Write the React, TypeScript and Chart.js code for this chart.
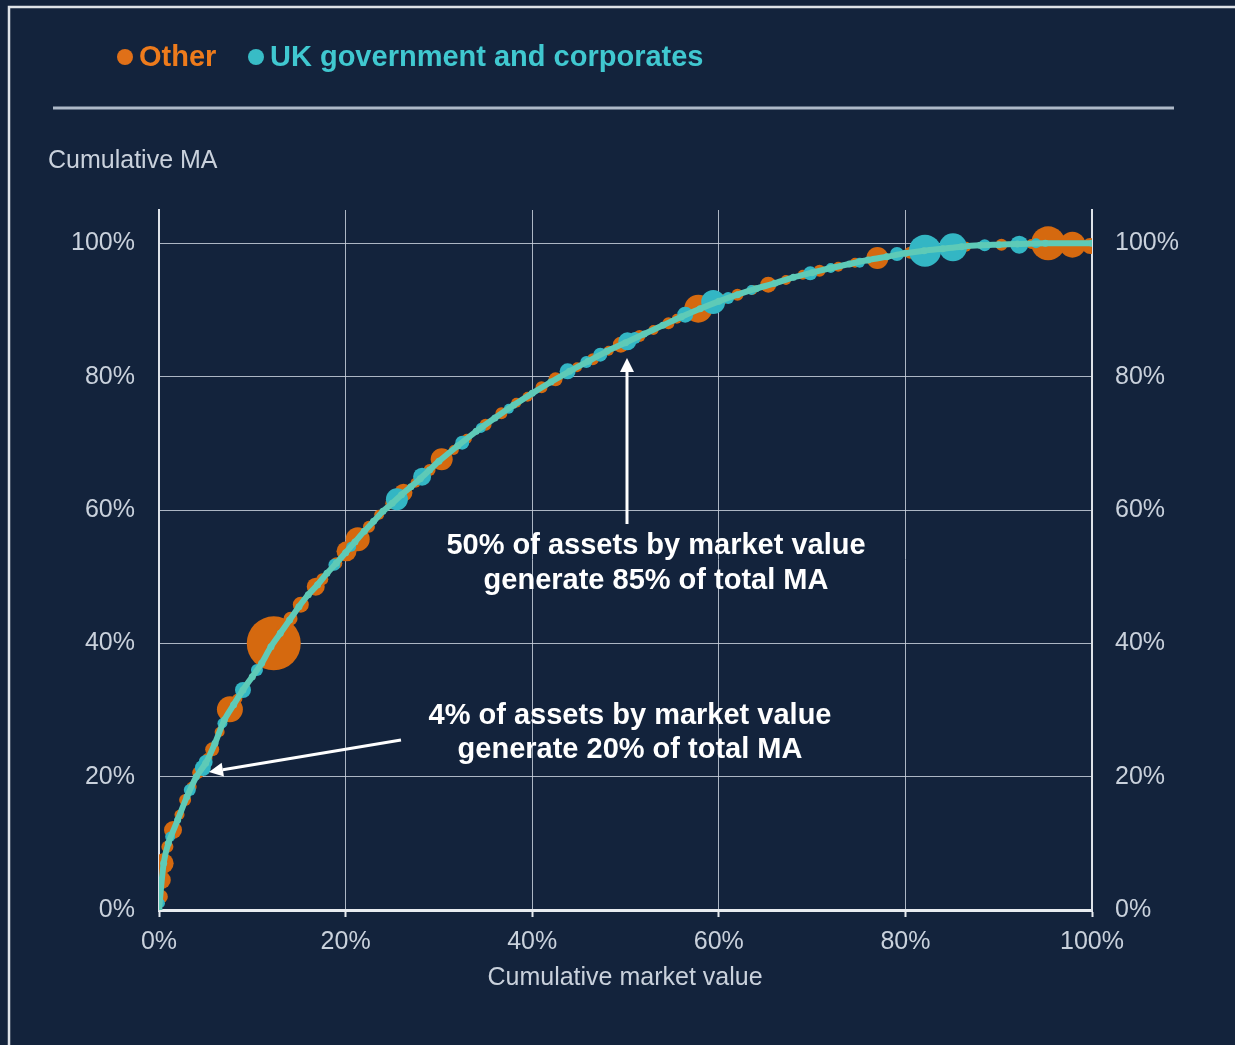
import React, { useEffect, useRef } from "react";
import { Chart, registerables } from "chart.js";

Chart.register(...registerables);

// ---- data ----
const xTicks = [0, 20, 40, 60, 80, 100];
const yTicks = [0, 20, 40, 60, 80, 100];

const curveX = [0, 0.5, 1, 2, 3, 4, 5, 6, 7, 8, 9, 10, 11, 12, 13, 14, 15, 16, 17, 18, 19, 20, 21, 22, 23, 24, 25, 26, 27, 28, 29, 30, 32, 34, 36, 38, 40, 42, 44, 46, 48, 50, 52, 54, 56, 58, 60, 62, 64, 66, 68, 70, 72, 74, 76, 78, 80, 82, 84, 86, 88, 90, 92, 95, 100];
const curveY = [0, 7, 10, 13.5, 17, 20, 22, 25, 28.5, 30.8, 33, 35, 37, 39.5, 41.5, 43.5, 45.5, 47.3, 48.8, 50.5, 52, 53.6, 55.2, 56.8, 58.3, 59.8, 61, 62.3, 63.5, 64.7, 66, 67.3, 69.6, 71.8, 73.8, 75.7, 77.5, 79.2, 80.8, 82.3, 83.8, 85.1, 86.4, 87.7, 89, 90.2, 91.3, 92.3, 93.2, 94, 94.9, 95.6, 96.3, 96.9, 97.5, 98, 98.5, 98.9, 99.2, 99.5, 99.7, 99.8, 99.9, 100, 100];

const otherX = [0.2, 0.3, 0.5, 0.9, 1.5, 2.2, 2.8, 3.5, 4.2, 5.2, 5.7, 6.5, 7.6, 8.4, 11.5, 12.3, 13.2, 14.1, 15.2, 16.8, 17.5, 19, 20.1, 21.3, 22.5, 23.6, 24.9, 26.2, 27.5, 29, 30.3, 31.6, 33, 35, 36.7, 38.3, 39.5, 41, 42.5, 44.8, 46.5, 48.2, 49.5, 51.5, 53, 54.6, 55.5, 57.8, 60.5, 62, 63.6, 65.3, 67.2, 69, 70.8, 72.8, 74.6, 77, 80.5, 84, 86.5, 88.5, 90.3, 93.5, 95.3, 97.9, 99.8];
const otherY = [2, 4.5, 7, 9.5, 12, 14.3, 16.5, 18.5, 20.6, 22.8, 24.1, 26.7, 30.1, 31.7, 38.2, 40, 42, 43.7, 45.8, 48.5, 49.6, 52, 53.8, 55.6, 57.5, 59.3, 61, 62.6, 64.1, 66, 67.6, 69, 70.7, 72.8, 74.5, 76.1, 77, 78.4, 79.6, 81.4, 82.6, 83.9, 84.8, 86.1, 87, 88, 88.7, 90.2, 91.6, 92.3, 93, 93.8, 94.5, 95.3, 95.9, 96.5, 97.1, 97.8, 98.6, 99.2, 99.5, 99.7, 99.8, 99.9, 100, 99.8, 99.6];
const otherR = [7, 9, 10, 6, 9, 5, 6, 5, 6, 5, 7, 5, 13, 5, 6, 27, 6, 7, 8, 9, 6, 6, 10, 12, 6, 5, 6, 9, 5, 6, 11, 5, 5, 6, 6, 5, 5, 6, 7, 5, 6, 5, 8, 6, 5, 6, 5, 14, 5, 6, 5, 8, 5, 5, 6, 5, 5, 11, 6, 5, 5, 5, 6, 5, 17, 13, 8];

const ukX = [0.1, 1.2, 3.3, 4.7, 5, 6.8, 9, 10.5, 18.8, 20.6, 25.5, 28.2, 32.5, 34.5, 37.5, 43.8, 45.8, 47.3, 50.2, 51, 56.4, 59.4, 61, 63.5, 69.8, 72, 75.1, 79.1, 82.1, 85.1, 88.5, 92.2, 94];
const ukY = [1, 11, 18, 21.3, 22.2, 28, 33, 36, 51.8, 54.5, 61.6, 65, 70.1, 72.3, 75.2, 80.8, 82.2, 83.3, 85.3, 85.8, 89.3, 91.2, 91.8, 93, 95.5, 96.3, 97.1, 98.4, 98.9, 99.4, 99.7, 99.8, 100];
const ukR = [5, 5, 6, 8, 7, 5, 8, 6, 6, 5, 11, 9, 7, 5, 5, 8, 6, 7, 9, 6, 8, 12, 6, 5, 7, 5, 5, 7, 16, 14, 6, 9, 5];

// ---- style ----
const BG = "#13233c";
const FONT = '"Liberation Sans", Arial, sans-serif';
const TEXT = "#c9d1dc";
const GRID = "rgba(200,208,220,0.85)";
const ORANGE = "#d5690f";
const TEAL = "#33b6c4";
const LINE = "#5ecab7";

function arrow(ctx: CanvasRenderingContext2D, x1: number, y1: number, x2: number, y2: number) {
  const ang = Math.atan2(y2 - y1, x2 - x1);
  const hl = 14, hw = 7;
  const bx = x2 - hl * Math.cos(ang), by = y2 - hl * Math.sin(ang);
  ctx.beginPath();
  ctx.moveTo(x1, y1);
  ctx.lineTo(bx, by);
  ctx.stroke();
  ctx.beginPath();
  ctx.moveTo(x2, y2);
  ctx.lineTo(bx + hw * Math.sin(ang), by - hw * Math.cos(ang));
  ctx.lineTo(bx - hw * Math.sin(ang), by + hw * Math.cos(ang));
  ctx.closePath();
  ctx.fill();
}

const decor = {
  id: "decor",
  beforeDraw(chart: any) {
    const ctx: CanvasRenderingContext2D = chart.ctx;
    const W = chart.width, H = chart.height;
    ctx.save();
    ctx.fillStyle = BG;
    ctx.fillRect(0, 0, W, H);
    // frame
    ctx.strokeStyle = "#dfe3e8";
    ctx.lineWidth = 2.5;
    ctx.beginPath();
    ctx.moveTo(9, H + 5);
    ctx.lineTo(9, 7);
    ctx.lineTo(W + 5, 7);
    ctx.stroke();
    // legend
    ctx.textBaseline = "middle";
    ctx.textAlign = "left";
    ctx.font = `bold 29px ${FONT}`;
    ctx.fillStyle = "#e07018";
    ctx.beginPath(); ctx.arc(125, 57, 8, 0, Math.PI * 2); ctx.fill();
    ctx.fillStyle = "#ee7b1c";
    ctx.fillText("Other", 139, 58);
    ctx.fillStyle = "#38bcc6";
    ctx.beginPath(); ctx.arc(256, 57, 8, 0, Math.PI * 2); ctx.fill();
    ctx.fillStyle = "#40c8d0";
    ctx.fillText("UK government and corporates", 270, 58);
    // separator
    ctx.strokeStyle = "#aeb9c8";
    ctx.lineWidth = 3;
    ctx.beginPath(); ctx.moveTo(53, 108); ctx.lineTo(1174, 108); ctx.stroke();
    // axis titles
    ctx.fillStyle = TEXT;
    ctx.font = `25px ${FONT}`;
    ctx.fillText("Cumulative MA", 48, 161);
    ctx.textAlign = "center";
    ctx.fillText("Cumulative market value", 625, 978);
    ctx.restore();
  },
  afterDatasetsDraw(chart: any) {
    const ctx: CanvasRenderingContext2D = chart.ctx;
    ctx.save();
    ctx.fillStyle = "#ffffff";
    ctx.strokeStyle = "#ffffff";
    ctx.lineWidth = 3;
    arrow(ctx, 627, 524, 627, 358);
    arrow(ctx, 401, 740, 209, 772);
    ctx.font = `bold 29px ${FONT}`;
    ctx.textAlign = "center";
    ctx.textBaseline = "middle";
    ctx.fillText("50% of assets by market value", 656, 546);
    ctx.fillText("generate 85% of total MA", 656, 581);
    ctx.fillText("4% of assets by market value", 630, 716);
    ctx.fillText("generate 20% of total MA", 630, 750);
    ctx.restore();
  },
};

export default function App() {
  const ref = useRef<HTMLCanvasElement>(null);
  useEffect(() => {
    if (!ref.current) return;
    const pct = (v: any) => v + "%";
    const yTickBuild = (s: any) => { s.ticks = yTicks.map((v) => ({ value: v })); };
    const chart = new Chart(ref.current, {
      type: "bubble",
      data: {
        datasets: [
          {
            type: "line",
            label: "curve",
            data: curveX.map((x, i) => ({ x, y: curveY[i] })),
            borderColor: LINE,
            backgroundColor: LINE,
            borderWidth: 6,
            pointRadius: 3.5,
            pointBorderWidth: 0,
            tension: 0.3,
            order: 0,
          } as any,
          {
            label: "UK government and corporates",
            data: ukX.map((x, i) => ({ x, y: ukY[i], r: ukR[i] })),
            backgroundColor: TEAL,
            borderWidth: 0,
            order: 1,
          },
          {
            label: "Other",
            data: otherX.map((x, i) => ({ x, y: otherY[i], r: otherR[i] })),
            backgroundColor: ORANGE,
            borderWidth: 0,
            order: 2,
          },
        ],
      },
      options: {
        animation: false,
        responsive: true,
        maintainAspectRatio: false,
        layout: { padding: { left: 59, right: 43, top: 210, bottom: 55 } },
        plugins: { legend: { display: false }, tooltip: { enabled: false } },
        scales: {
          x: {
            type: "linear",
            position: "bottom",
            min: 0,
            max: 100,
            afterBuildTicks: (s: any) => { s.ticks = xTicks.map((v) => ({ value: v })); },
            afterFit: (s: any) => { s.height = 80; },
            ticks: { callback: pct, color: TEXT, font: { family: FONT, size: 25 }, padding: 10, maxRotation: 0 },
            grid: { color: GRID, lineWidth: 1, drawTicks: true, tickLength: 7, tickColor: "#e8ecf0", tickWidth: 2 },
            border: { color: "#e8ecf0", width: 3 },
          },
          y: {
            type: "linear",
            position: "left",
            min: 0,
            max: 105,
            afterBuildTicks: yTickBuild,
            afterFit: (s: any) => { s.width = 100; },
            ticks: { callback: pct, color: TEXT, font: { family: FONT, size: 25 }, padding: 24 },
            grid: { color: GRID, lineWidth: 1, drawTicks: false },
            border: { color: "#dde2e8", width: 2 },
          },
          y2: {
            type: "linear",
            position: "right",
            min: 0,
            max: 105,
            afterBuildTicks: yTickBuild,
            afterFit: (s: any) => { s.width = 100; },
            ticks: { callback: pct, color: TEXT, font: { family: FONT, size: 25 }, padding: 23 },
            grid: { display: false, drawTicks: false },
            border: { color: "#dde2e8", width: 2 },
          },
        },
      },
      plugins: [decor],
    } as any);
    return () => chart.destroy();
  }, []);
  return (
    <div style={{ position: "fixed", left: 0, top: 0, width: 1235, height: 1045, background: BG }}>
      <canvas ref={ref} />
    </div>
  );
}
